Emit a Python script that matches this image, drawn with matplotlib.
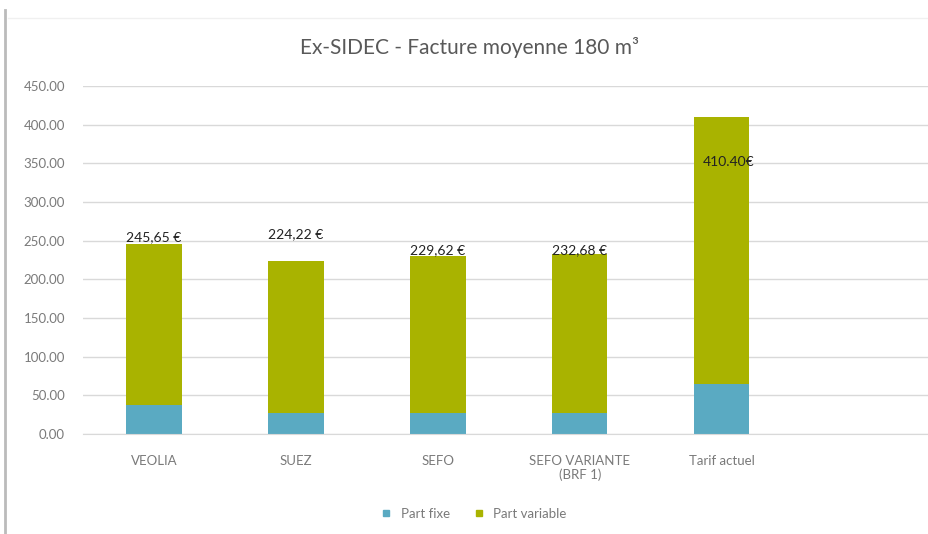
import matplotlib.pyplot as plt
import numpy as np
from matplotlib.lines import Line2D

plt.rcParams['font.family'] = ['Lato', 'DejaVu Sans']

categories = ['VEOLIA', 'SUEZ', 'SEFO', 'SEFO VARIANTE\n(BRF 1)', 'Tarif actuel']
part_fixe = [38.0, 27.0, 27.0, 27.0, 65.0]
totals = [245.65, 224.22, 229.62, 232.68, 410.40]
labels = ['245,65 €', '224,22 €', '229,62 €', '232,68 €', '410.40€']
part_variable = [t - f for t, f in zip(totals, part_fixe)]

# where each data label sits (in axis units), as placed on the original chart
label_y = [255, 259, 238, 238, 352]
label_dx = [0, 0, 0, 0, 0.05]

blue = '#5AAAC2'
green = '#A9B300'

fig = plt.figure(figsize=(9.29, 5.34), dpi=100)
ax = fig.add_axes([83/929, 1 - 434/534, 1 - 83/929, (434 - 86)/534])

x = np.arange(len(categories))
w = 0.39
ax.bar(x, part_fixe, w, color=blue, label='Part fixe', zorder=2)
ax.bar(x, part_variable, w, bottom=part_fixe, color=green, label='Part variable', zorder=2)

for i, lab in enumerate(labels):
    ax.text(x[i] + label_dx[i], label_y[i], lab, ha='center', va='center', fontsize=10,
            color='#222222', zorder=3)

ax.set_ylim(0, 450)
ax.set_xlim(-0.5, 5.46)
ax.set_yticks(np.arange(0, 451, 50))
ax.set_yticklabels([f'{v:.2f}' for v in np.arange(0, 451, 50)])
ax.set_xticks(x)
ax.set_xticklabels(categories)
ax.yaxis.grid(True, color='#D9D9D9', linewidth=1, zorder=0)
ax.set_axisbelow(True)
for s in ['top', 'right', 'left']:
    ax.spines[s].set_visible(False)
ax.spines['bottom'].set_color('#D9D9D9')
ax.tick_params(axis='both', length=0, colors='#7A7A7A', labelsize=9.5)
ax.tick_params(axis='y', pad=13)
ax.tick_params(axis='x', pad=15)

fig.text(470/929, 1 - 48/534, 'Ex-SIDEC - Facture moyenne 180 m³', ha='center', va='center',
         fontsize=15, color='#595959')

handles = [Line2D([0], [0], marker='s', linestyle='', color=blue, markersize=5),
           Line2D([0], [0], marker='s', linestyle='', color=green, markersize=5)]
fig.legend(handles, ['Part fixe', 'Part variable'], loc='center', bbox_to_anchor=(470/929, 1 - 514/534),
           ncol=2, frameon=False, fontsize=9.5, labelcolor='#7A7A7A', handletextpad=0.1, columnspacing=1.2)

fig.add_artist(Line2D([5/929, 5/929], [0, 1 - 10/534], color='#BBBBBB', linewidth=2))
fig.add_artist(Line2D([8/929, 1], [1 - 18/534, 1 - 18/534], color='#F0F0F0', linewidth=1))

fig.savefig('out.png', dpi=100, facecolor='white')
